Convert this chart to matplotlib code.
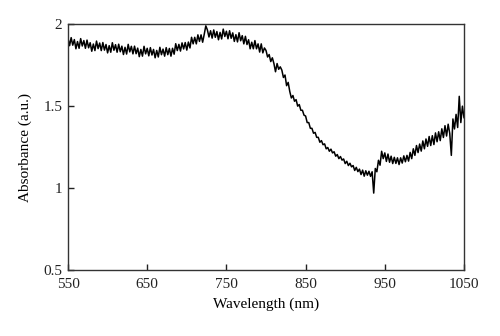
import numpy as np
import matplotlib
matplotlib.use("Agg")
import matplotlib.pyplot as plt

wavelength = np.arange(550, 1051, 2)
absorbance = [
    1.915, 1.869, 1.918, 1.872, 1.906,
    1.850, 1.894, 1.853, 1.912, 1.867,
    1.900, 1.853, 1.903, 1.856, 1.887,
    1.835, 1.879, 1.839, 1.897, 1.851,
    1.885, 1.839, 1.888, 1.842, 1.876,
    1.825, 1.869, 1.829, 1.887, 1.841,
    1.875, 1.829, 1.878, 1.832, 1.866,
    1.815, 1.859, 1.818, 1.877, 1.831,
    1.865, 1.819, 1.866, 1.820, 1.854,
    1.802, 1.846, 1.805, 1.865, 1.819,
    1.853, 1.807, 1.857, 1.812, 1.846,
    1.795, 1.840, 1.800, 1.859, 1.814,
    1.848, 1.805, 1.857, 1.814, 1.852,
    1.805, 1.853, 1.817, 1.881, 1.839,
    1.877, 1.836, 1.886, 1.849, 1.888,
    1.842, 1.891, 1.855, 1.920, 1.880,
    1.920, 1.880, 1.935, 1.895, 1.935,
    1.890, 1.938, 1.990, 1.965, 1.922,
    1.960, 1.915, 1.965, 1.920, 1.955,
    1.905, 1.950, 1.910, 1.970, 1.925,
    1.957, 1.911, 1.960, 1.914, 1.947,
    1.895, 1.936, 1.892, 1.948, 1.899,
    1.930, 1.880, 1.926, 1.876, 1.905,
    1.850, 1.890, 1.850, 1.900, 1.850,
    1.880, 1.830, 1.880, 1.825, 1.855,
    1.840, 1.800, 1.815, 1.772, 1.795,
    1.760, 1.710, 1.760, 1.725, 1.740,
    1.720, 1.675, 1.690, 1.625, 1.645,
    1.590, 1.550, 1.565, 1.530, 1.540,
    1.500, 1.510, 1.475, 1.475, 1.445,
    1.440, 1.400, 1.400, 1.365, 1.365,
    1.335, 1.340, 1.310, 1.310, 1.280,
    1.290, 1.265, 1.270, 1.240, 1.248,
    1.225, 1.238, 1.215, 1.222, 1.195,
    1.205, 1.180, 1.193, 1.171, 1.178,
    1.150, 1.164, 1.138, 1.152, 1.130,
    1.138, 1.108, 1.127, 1.101, 1.116,
    1.083, 1.110, 1.073, 1.106, 1.079,
    1.103, 1.072, 1.100, 0.970, 1.120,
    1.100, 1.170, 1.140, 1.225, 1.180,
    1.215, 1.163, 1.208, 1.158, 1.195,
    1.150, 1.188, 1.151, 1.185, 1.144,
    1.185, 1.153, 1.197, 1.161, 1.200,
    1.165, 1.218, 1.180, 1.240, 1.200,
    1.260, 1.217, 1.269, 1.226, 1.288,
    1.240, 1.300, 1.255, 1.315, 1.260,
    1.320, 1.266, 1.337, 1.283, 1.344,
    1.290, 1.362, 1.309, 1.381, 1.318,
    1.390, 1.334, 1.200, 1.422, 1.361,
    1.450, 1.370, 1.560, 1.400, 1.500,
    1.430,
]
xticks = [550, 650, 750, 850, 950, 1050]
yticks = [0.5, 1, 1.5, 2]
ytick_labels = ["0.5", "1", "1.5", "2"]

plt.rcParams['font.family'] = ['Liberation Serif', 'DejaVu Serif']
fig = plt.figure(figsize=(5, 3.36), dpi=100)
ax = fig.add_axes([0.136, 0.196, 0.792, 0.732])
ax.plot(wavelength, absorbance, color='black', linewidth=1.1)
ax.set_xlim(550, 1050)
ax.set_ylim(0.5, 2)
ax.set_xticks(xticks)
ax.set_xticklabels([str(t) for t in xticks])
ax.set_yticks(yticks)
ax.set_yticklabels(ytick_labels)
ax.tick_params(direction='in', length=4, width=1, labelsize=11, colors='#222222',
               top=False, right=False)
ax.tick_params(axis='x', pad=6)
ax.tick_params(axis='y', pad=4)
for s in ax.spines.values():
    s.set_linewidth(1.0)
    s.set_color('#333333')
ax.set_xlabel('Wavelength (nm)', fontsize=11, labelpad=4)
ax.set_ylabel('Absorbance (a.u.)', fontsize=11, labelpad=8)
fig.savefig('out.png', dpi=100)
